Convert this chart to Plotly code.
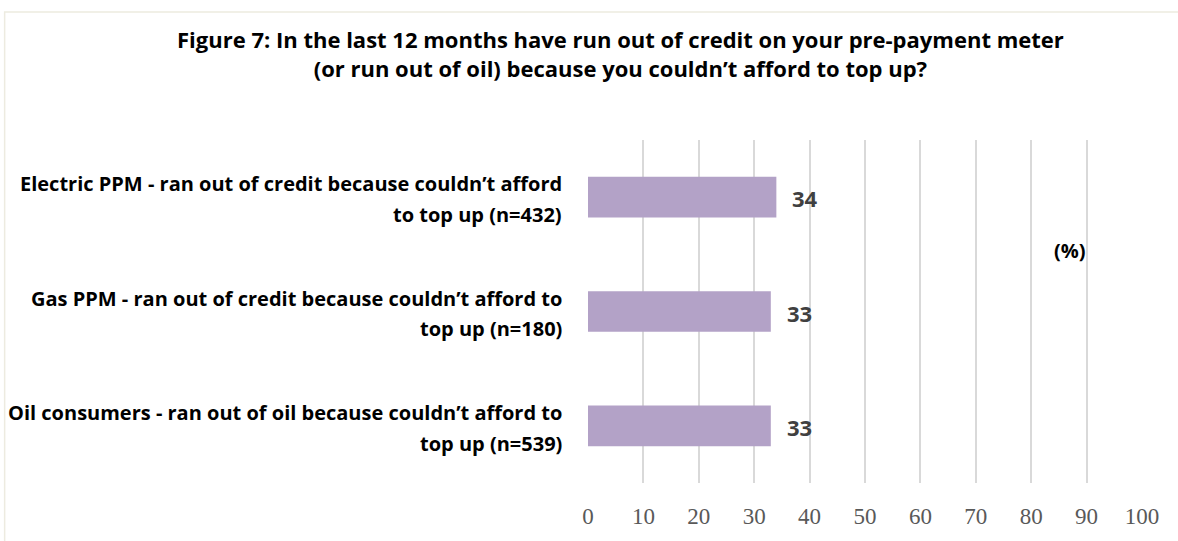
import plotly.graph_objects as go

# Survey results: share of respondents (%) who ran out of credit / oil
categories = [
    "Electric PPM - ran out of credit because couldn’t afford<br>to top up (n=432)",
    "Gas PPM - ran out of credit because couldn’t afford to<br>top up (n=180)",
    "Oil consumers - ran out of oil because couldn’t afford to<br>top up (n=539)",
]
values = [34, 33, 33]
x_ticks = [0, 10, 20, 30, 40, 50, 60, 70, 80, 90, 100]

title_text = ("<b>Figure 7: In the last 12 months have run out of credit on your pre-payment meter<br>"
              "(or run out of oil) because you couldn’t afford to top up?</b>")

BAR_COLOR = "#B3A2C7"
SANS = "'Open Sans', Lato, sans-serif"

fig = go.Figure(
    go.Bar(
        x=values,
        y=categories,
        orientation="h",
        marker=dict(color=BAR_COLOR, line=dict(width=0)),
        width=0.355,
        hoverinfo="skip",
    )
)

# Category labels drawn line by line, right-aligned against the plot area
for cat in categories:
    lines = cat.split("<br>")
    n = len(lines)
    for i, line in enumerate(lines):
        fig.add_annotation(
            x=0, y=cat, xref="paper", yref="y",
            text=f"<b>{line}</b>", showarrow=False,
            xanchor="right", yanchor="middle", xshift=-24,
            yshift=(n - 1) / 2 * 30.5 - i * 30.5 - 2,
            font=dict(family=SANS, size=20, color="#000000"),
        )

# Value labels to the right of each bar
for cat, val in zip(categories, values):
    fig.add_annotation(
        x=val, y=cat, xref="x", yref="y",
        text=f"<b>{val}</b>", showarrow=False,
        xanchor="left", yanchor="middle", xshift=14, yshift=-1,
        font=dict(family=SANS, size=22, color="#404040"),
    )

# Unit marker
fig.add_annotation(
    x=87.0, y=0.677, xref="x", yref="paper",
    text="<b>(%)</b>", showarrow=False,
    xanchor="center", yanchor="middle",
    font=dict(family=SANS, size=20, color="#000000"),
)

# Title
fig.add_annotation(
    x=0.0578, y=1.2525, xref="paper", yref="paper",
    text=title_text, showarrow=False,
    xanchor="center", yanchor="middle", align="center",
    font=dict(family=SANS, size=22, color="#000000"),
)

# Light outer frame of the chart area
fig.add_shape(
    type="rect", xref="paper", yref="paper",
    x0=-1.053, x1=1.2, y0=-0.3, y1=1.373,
    line=dict(color="#EDEBE0", width=1.5), fillcolor="rgba(0,0,0,0)",
    layer="below",
)

fig.update_layout(
    width=1178, height=541,
    margin=dict(l=588, r=36, t=140, b=54),
    paper_bgcolor="white", plot_bgcolor="white",
    showlegend=False,
    bargap=0.645,
    xaxis=dict(
        range=[0, 100], tickvals=x_ticks, ticktext=[str(t) for t in x_ticks],
        showgrid=True, gridcolor="#D9D9D9", gridwidth=1.5,
        zeroline=False, showline=False,
        ticks="", ticklabelstandoff=17,
        tickfont=dict(family="'Liberation Serif', serif", size=23, color="#595959"),
        fixedrange=True,
    ),
    yaxis=dict(
        autorange="reversed",
        showgrid=False, zeroline=False, showline=False,
        ticks="", showticklabels=False,
        fixedrange=True,
    ),
)

fig.write_html("out.html")
